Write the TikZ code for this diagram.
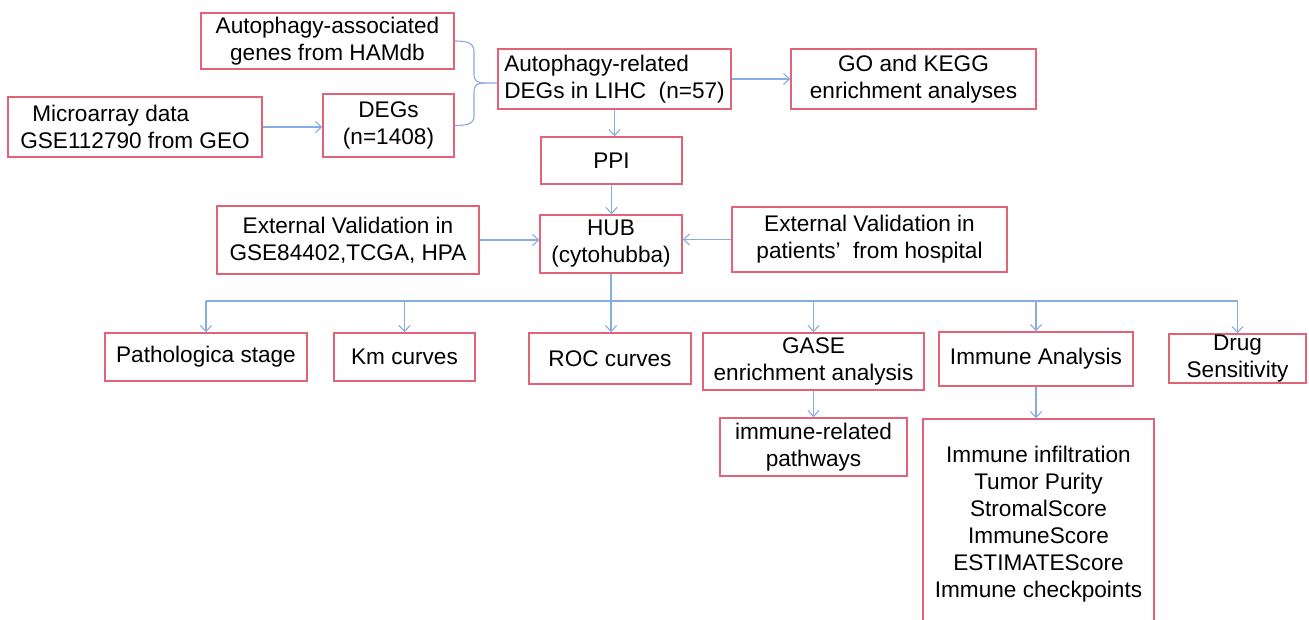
\documentclass[tikz,border=0pt]{standalone}
\usepackage{fontspec}
\setmainfont{Liberation Sans}
\usetikzlibrary{arrows.meta,calc}
\definecolor{boxred}{RGB}{226,98,120}
\definecolor{linkblue}{RGB}{135,172,225}
\begin{document}
\begin{tikzpicture}[x=1pt,y=-1pt,
  bx/.style={draw=boxred, line width=1.4pt, inner sep=0pt, align=center,
    font=\fontsize{22.6}{27}\selectfont, text=black},
  lnk/.style={draw=linkblue, line width=1.1pt},
  arr/.style={lnk, -{Straight Barb[length=6pt,width=11pt]}}]
\clip (0,0) rectangle (1309,620);
\fill[white] (0,0) rectangle (1309,620);

% top row
\node[bx, minimum width=253pt, minimum height=56pt] (ham) at (327.5,41) {Autophagy-associated\\genes from HAMdb};
\node[bx, align=left, minimum width=254pt, minimum height=60pt] (micro) at (135,127) {\hspace{12pt}Microarray data\\GSE112790 from GEO};
\node[bx, minimum width=131pt, minimum height=63pt] (degs) at (388.5,125.5) {DEGs\\(n=1408)};
\node[bx, align=left, minimum width=233pt, minimum height=60pt] (rel) at (614.5,79) {Autophagy-related\\DEGs in LIHC\ \ (n=57)};
\node[bx, minimum width=245pt, minimum height=60pt] (go) at (913.5,79) {GO and KEGG\\enrichment analyses};
\node[bx, minimum width=141pt, minimum height=47pt] (ppi) at (611.5,160.5) {PPI};
\node[bx, minimum width=142pt, minimum height=58pt] (hub) at (611,244) {HUB\\(cytohubba)};
\node[bx, minimum width=262pt, minimum height=68pt] (extl) at (348,240) {External Validation in\\GSE84402,TCGA, HPA};
\node[bx, minimum width=275pt, minimum height=65pt] (extr) at (869.5,239.5) {External Validation in\\patients’\ \ from hospital};

% bottom row
\node[bx, minimum width=202pt, minimum height=48pt] (path) at (206,357) {Pathologica stage};
\node[bx, minimum width=141pt, minimum height=48pt] (km) at (404.5,357) {Km curves};
\node[bx, minimum width=162pt, minimum height=51pt] (roc) at (610,358.5) {ROC curves};
\node[bx, minimum width=221pt, minimum height=57pt] (gase) at (813.5,361.5) {GASE\\enrichment analysis};
\node[bx, minimum width=194pt, minimum height=54pt] (imm) at (1036,359) {Immune Analysis};
\node[bx, minimum width=137pt, minimum height=49pt] (drug) at (1237.5,358.5) {Drug\\Sensitivity};
\node[bx, minimum width=187pt, minimum height=58pt] (irp) at (813.5,447) {immune-related\\pathways};
\node[bx, minimum width=231pt, minimum height=211pt] (lst) at (1038.5,524.5) {Immune infiltration\\Tumor Purity\\StromalScore\\ImmuneScore\\ESTIMATEScore\\Immune checkpoints};

% brace joining HAMdb and DEGs
\coordinate (tip) at ($(rel.west)+(0,4)$);
\draw[lnk] (ham.east) .. controls (468,41) and (474,43) .. (474,52) -- (474,74)
  .. controls (474,81) and (477,83) .. (485,83) -- (tip);
\draw[lnk] (degs.east) .. controls (468,125.5) and (474,123.5) .. (474,116) -- (474,92)
  .. controls (474,85) and (477,83) .. (485,83);

% connectors
\draw[arr] (micro.east) -- (micro.east -| degs.west);
\draw[arr] (rel.east) -- (rel.east -| go.west);
\draw[arr] (rel.south) -- (rel.south |- ppi.north);
\draw[arr] (ppi.south) -- (ppi.south |- hub.north);
\draw[arr] (extl.east) -- (extl.east -| hub.west);
\draw[arr] (extr.west) -- (extr.west -| hub.east);
\draw[arr] (hub.south) -- (hub.south |- roc.north);

\coordinate (bus) at (611,301);
\draw[lnk] (path.north |- bus) -- (drug.north |- bus);
\draw[arr] (path.north |- bus) -- (path.north);
\draw[arr] (km.north |- bus) -- (km.north);
\draw[arr] (gase.north |- bus) -- (gase.north);
\draw[arr] (imm.north |- bus) -- (imm.north);
\draw[arr] (drug.north |- bus) -- (drug.north);

\draw[arr] (gase.south) -- (gase.south |- irp.north);
\draw[arr] (imm.south) -- (imm.south |- lst.north);
\end{tikzpicture}
\end{document}
